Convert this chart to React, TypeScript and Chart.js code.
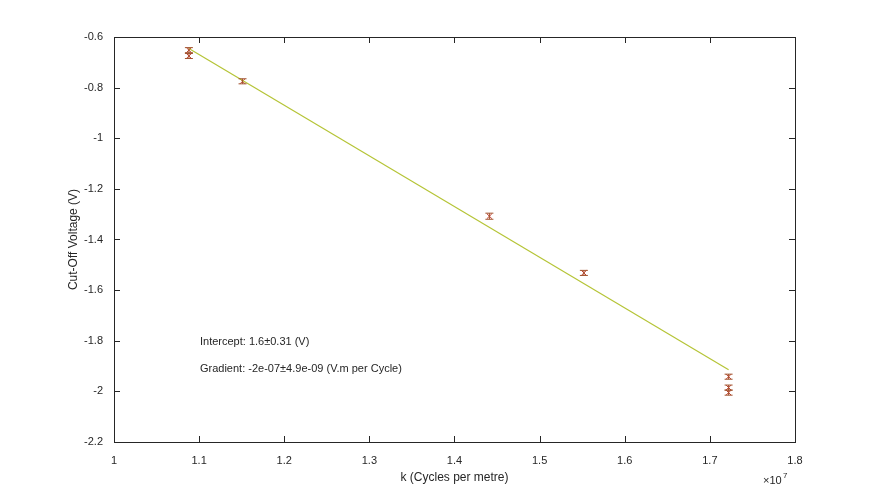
import Chart from "chart.js/auto";
import { useEffect, useRef } from "react";

// k in units of 1e7 cycles per metre
const kValues = [1.088, 1.088, 1.151, 1.441, 1.552, 1.722, 1.722, 1.722];
const voltages = [-0.652, -0.675, -0.775, -1.308, -1.532, -1.942, -1.985, -2.005];
const errors = [0.01, 0.01, 0.01, 0.012, 0.01, 0.01, 0.01, 0.01];
const fitX = [1.088, 1.722];
const fitY = [-0.645, -1.915];
const xTicks = [1, 1.1, 1.2, 1.3, 1.4, 1.5, 1.6, 1.7, 1.8];
const yTicks = [-0.6, -0.8, -1, -1.2, -1.4, -1.6, -1.8, -2, -2.2];
const notes = ["Intercept: 1.6±0.31 (V)", "Gradient: -2e-07±4.9e-09 (V.m per Cycle)"];

const FAMILY = "'Liberation Sans', Arial, sans-serif";
const FONT = `11px ${FAMILY}`;

const framePlugin = {
  id: "frame",
  afterDraw(chart: any) {
    const { ctx, chartArea: a, scales } = chart;
    const xs = scales.x, ys = scales.y;
    ctx.save();
    // error bars
    ctx.strokeStyle = "#a0522d";
    ctx.lineWidth = 1;
    kValues.forEach((k, i) => {
      const px = xs.getPixelForValue(k);
      const t = ys.getPixelForValue(voltages[i] + errors[i]);
      const b = ys.getPixelForValue(voltages[i] - errors[i]);
      ctx.beginPath();
      ctx.moveTo(px, t); ctx.lineTo(px, b);
      ctx.moveTo(px - 4, t); ctx.lineTo(px + 4, t);
      ctx.moveTo(px - 4, b); ctx.lineTo(px + 4, b);
      ctx.stroke();
    });
    // box and ticks
    ctx.strokeStyle = "#262626";
    ctx.strokeRect(a.left + 0.5, a.top + 0.5, a.width, a.height);
    ctx.beginPath();
    xTicks.forEach((v) => {
      const p = Math.round(xs.getPixelForValue(v)) + 0.5;
      ctx.moveTo(p, a.bottom); ctx.lineTo(p, a.bottom - 6);
      ctx.moveTo(p, a.top); ctx.lineTo(p, a.top + 6);
    });
    yTicks.forEach((v) => {
      const p = Math.round(ys.getPixelForValue(v)) + 0.5;
      ctx.moveTo(a.left, p); ctx.lineTo(a.left + 6, p);
      ctx.moveTo(a.right, p); ctx.lineTo(a.right - 6, p);
    });
    ctx.stroke();
    ctx.fillStyle = "#262626";
    ctx.font = FONT;
    ctx.textBaseline = "middle";
    ctx.fillText(notes[0], xs.getPixelForValue(1.101), ys.getPixelForValue(-1.805));
    ctx.fillText(notes[1], xs.getPixelForValue(1.101), ys.getPixelForValue(-1.91));
    ctx.fillText("×10", a.right - 32, a.bottom + 39);
    ctx.font = `8px ${FAMILY}`;
    ctx.fillText("7", a.right - 12, a.bottom + 34);
    // axis titles
    ctx.font = `12px ${FAMILY}`;
    ctx.textAlign = "center";
    ctx.fillText("k (Cycles per metre)", (a.left + a.right) / 2, a.bottom + 36);
    ctx.translate(a.left - 40, (a.top + a.bottom) / 2);
    ctx.rotate(-Math.PI / 2);
    ctx.fillText("Cut-Off Voltage (V)", 0, 0);
    ctx.restore();
  },
};

export default function App() {
  const canvasRef = useRef<HTMLCanvasElement | null>(null);

  useEffect(() => {
    document.body.style.margin = "0";
    if (!canvasRef.current) return;
    const chart = new Chart(canvasRef.current, {
      type: "scatter",
      data: {
        datasets: [
          {
            type: "line",
            data: fitX.map((x, i) => ({ x, y: fitY[i] })),
            borderColor: "#b5c436",
            borderWidth: 1.2,
            pointRadius: 0,
          },
          {
            data: kValues.map((x, i) => ({ x, y: voltages[i] })),
            pointStyle: "crossRot",
            pointRadius: 3.5,
            borderColor: "#c0392b",
            borderWidth: 1,
          },
        ],
      },
      plugins: [framePlugin],
      options: {
        animation: false,
        responsive: false,
        layout: { padding: { top: 37, right: 84, left: 0, bottom: 0 } },
        plugins: { legend: { display: false }, tooltip: { enabled: false } },
        scales: {
          x: {
            type: "linear",
            min: 1,
            max: 1.8,
            afterFit: (s: any) => { s.height = 56; },
            afterBuildTicks: (s: any) => { s.ticks = xTicks.map((value) => ({ value })); },
            grid: { display: false },
            border: { display: false },
            ticks: { color: "#262626", font: { family: FAMILY, size: 11 }, padding: 4, callback: (v: any) => String(v) },
          },
          y: {
            min: -2.2,
            max: -0.6,
            afterFit: (s: any) => { s.width = 114; },
            afterBuildTicks: (s: any) => { s.ticks = yTicks.map((value) => ({ value })); },
            grid: { display: false },
            border: { display: false },
            ticks: { color: "#262626", font: { family: FAMILY, size: 11 }, padding: 3, callback: (v: any) => String(Math.round(v * 10) / 10) },
          },
        },
      },
    });
    return () => chart.destroy();
  }, []);

  return <canvas ref={canvasRef} width={879} height={498} style={{ display: "block" }} />;
}
